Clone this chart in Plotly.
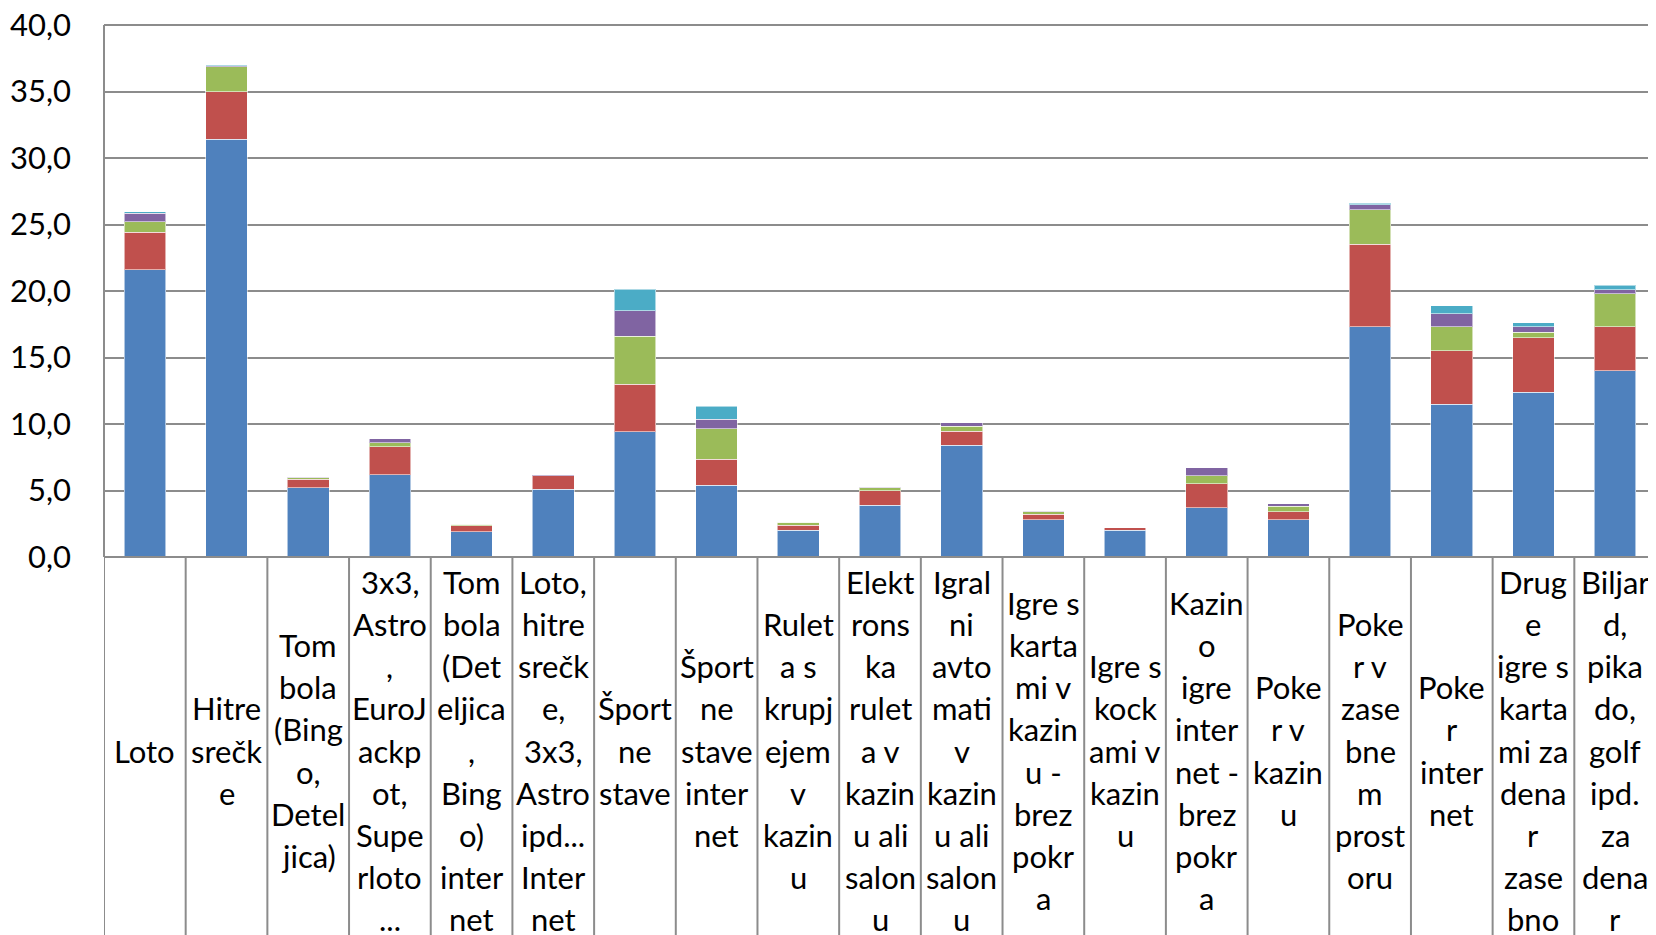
import plotly.graph_objects as go

categories = [
    "Loto", "Hitre\nsrečk\ne", "Tom\nbola\n(Bing\no,\nDetel\njica)",
    "3x3,\nAstro\n,\nEuroJ\nackp\not,\nSupe\nrloto\n...",
    "Tom\nbola\n(Det\neljica\n,\nBing\no)\ninter\nnet",
    "Loto,\nhitre\nsrečk\ne,\n3x3,\nAstro\nipd...\nInter\nnet",
    "Šport\nne\nstave", "Šport\nne\nstave\ninter\nnet",
    "Rulet\na s\nkrupj\nejem\nv\nkazin\nu",
    "Elekt\nrons\nka\nrulet\na v\nkazin\nu ali\nsalon\nu",
    "Igral\nni\navto\nmati\nv\nkazin\nu ali\nsalon\nu",
    "Igre s\nkarta\nmi v\nkazin\nu -\nbrez\npokr\na",
    "Igre s\nkock\nami v\nkazin\nu",
    "Kazin\no\nigre\ninter\nnet -\nbrez\npokr\na",
    "Poke\nr v\nkazin\nu",
    "Poke\nr v\nzase\nbne\nm\nprost\noru",
    "Poke\nr\ninter\nnet",
    "Drug\ne\nigre s\nkarta\nmi za\ndena\nr\nzase\nbno",
    "Biljar\nd,\npika\ndo,\ngolf\nipd.\nza\ndena\nr",
]

s1 = [21.6, 31.4, 5.2, 6.2, 1.9, 5.1, 9.4, 5.4, 2.0, 3.9, 8.4, 2.8, 2.0, 3.7, 2.8, 17.3, 11.5, 12.4, 14.0]
s2 = [2.8, 3.6, 0.65, 2.1, 0.45, 1.0, 3.6, 1.95, 0.4, 1.1, 1.05, 0.4, 0.2, 1.8, 0.6, 6.2, 4.0, 4.1, 3.3]
s3 = [0.8, 1.85, 0.1, 0.3, 0.1, 0.0, 3.6, 2.3, 0.2, 0.2, 0.4, 0.2, 0.0, 0.6, 0.4, 2.6, 1.8, 0.4, 2.5]
s4 = [0.65, 0.1, 0.05, 0.3, 0.0, 0.1, 1.9, 0.7, 0.0, 0.05, 0.25, 0.05, 0.0, 0.6, 0.2, 0.37, 1.0, 0.4, 0.3]
s5 = [0.1, 0.05, 0.0, 0.0, 0.0, 0.0, 1.65, 1.0, 0.0, 0.0, 0.0, 0.0, 0.0, 0.0, 0.0, 0.13, 0.6, 0.3, 0.33]

series = [s1, s2, s3, s4, s5]
colors = ["#4F81BD", "#C0504D", "#9BBB59", "#8064A2", "#4BACC6"]
y_ticks = [0, 5, 10, 15, 20, 25, 30, 35, 40]

BODY = 8  # default page margin of the html body
W, H = 1656, 935
ML, MT = 104 - BODY, 25 - BODY
PLOT_BOTTOM = 557 - BODY
MB = H - PLOT_BOTTOM
MR = BODY
plot_h = PLOT_BOTTOM - MT

FONT = "Lato"
FS = 31
GRID = "#8C8C8C"

x = list(range(len(categories)))
fig = go.Figure()
for vals, col in zip(series, colors):
    fig.add_trace(go.Bar(
        x=x, y=vals, marker=dict(color=col, line=dict(color="rgba(255,255,255,0.55)", width=1)),
        showlegend=False,
    ))

# category label lines
LINE_PX = 42.2
CENTER_PX = 750.5 - BODY
annotations = []
for i, lab in enumerate(categories):
    lines = lab.split("\n")
    n = len(lines)
    for k, ln in enumerate(lines):
        ypx = CENTER_PX + (k - (n - 1) / 2) * LINE_PX
        annotations.append(dict(
            x=i, y=(PLOT_BOTTOM - ypx) / plot_h, xref="x", yref="paper",
            text=ln, showarrow=False, xanchor="center", yanchor="middle",
            font=dict(family=FONT, size=FS, color="#000000"),
        ))

shapes = []
for i in range(len(categories) + 1):
    shapes.append(dict(
        type="line", xref="x", yref="paper", x0=i - 0.5, x1=i - 0.5,
        y0=0, y1=-(H - PLOT_BOTTOM + 10) / plot_h, line=dict(color=GRID, width=2),
    ))
shapes.append(dict(type="line", xref="paper", yref="paper", x0=0, x1=0, y0=0, y1=1,
                   line=dict(color=GRID, width=2)))
shapes.append(dict(type="line", xref="paper", yref="paper", x0=0, x1=1, y0=0, y1=0,
                   line=dict(color=GRID, width=2)))
# top gridline (plot frame edge)
shapes.append(dict(type="line", xref="paper", yref="paper", x0=0, x1=1, y0=1, y1=1,
                   line=dict(color=GRID, width=2), layer="below"))

fig.update_layout(
    width=W, height=H, barmode="stack", bargap=0.49,
    margin=dict(l=ML, r=MR, t=MT, b=MB, pad=0, autoexpand=False),
    plot_bgcolor="white", paper_bgcolor="white",
    separators=", ",
    annotations=annotations, shapes=shapes,
    xaxis=dict(range=[-0.5, len(categories) - 0.5], showticklabels=False, showgrid=False,
               zeroline=False, showline=False, ticks="", automargin=False),
    yaxis=dict(range=[0, 40], tickvals=y_ticks, tickformat=".1f",
               showgrid=True, gridcolor=GRID, gridwidth=2, zeroline=False, showline=False,
               ticks="", ticklabelstandoff=32, ticklabeloverflow="allow", automargin=False,
               tickfont=dict(family=FONT, size=FS, color="#000000")),
)

fig.write_html("out.html")
